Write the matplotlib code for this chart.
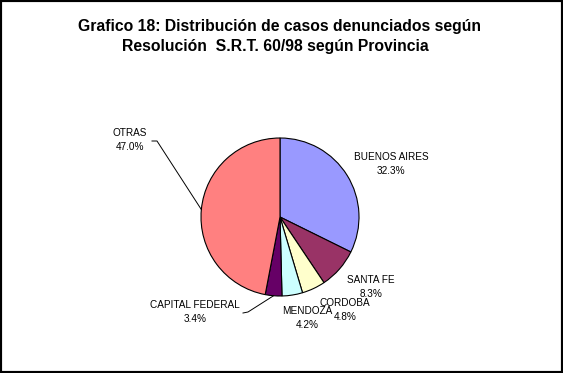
import matplotlib
matplotlib.use("Agg")
import matplotlib.pyplot as plt
from matplotlib.patches import Rectangle
import numpy as np

# datos del grafico
provincias = ["BUENOS AIRES", "SANTA FE", "CORDOBA", "MENDOZA", "CAPITAL FEDERAL", "OTRAS"]
porcentajes = [32.3, 8.3, 4.8, 4.2, 3.4, 47.0]
colores = ["#9999FF", "#993366", "#FFFFCC", "#CCFFFF", "#660066", "#FF8080"]

titulo1 = "Grafico 18: Distribución de casos denunciados según"
titulo2 = "Resolución  S.R.T. 60/98 según Provincia"

W, H = 563, 373
CX, CY, R = 280, 217, 79  # centro y radio de la torta en pixeles

# posicion de las etiquetas (pixeles, centro del bloque)
pos_etiq = [(391, 164), (371, 287), (345, 310), (307, 318), (195, 312), (130, 140)]
# etiquetas con linea guia: indice -> punto de inicio de la linea (pixeles)
guias = {5: [(152, 141), (157, 141)], 4: [(243, 313), (248, 312)]}

plt.rcParams['font.family'] = ['Liberation Sans', 'DejaVu Sans']

fig = plt.figure(figsize=(W / 100, H / 100), dpi=100)
ax = fig.add_axes([0, 0, 1, 1])


def px(x, y):
    return (x - CX) / R, (CY - y) / R


wedges, _ = ax.pie(porcentajes, colors=colores, startangle=90, counterclock=False,
                   wedgeprops=dict(edgecolor="black", linewidth=0.8))

ax.set_xlim(px(0, 0)[0], px(W, 0)[0])
ax.set_ylim(px(0, H)[1], px(0, 0)[1])
ax.set_aspect('auto')
ax.axis('off')

for i, (nombre, val) in enumerate(zip(provincias, porcentajes)):
    x, y = px(*pos_etiq[i])
    ax.text(x, y, "%s\n%.1f%%" % (nombre, val), ha="center", va="center",
            fontsize=7.2, linespacing=1.4)
    if i in guias:
        w = wedges[i]
        ang = np.deg2rad((w.theta1 + w.theta2) / 2)
        pts = [px(*p) for p in guias[i]] + [(np.cos(ang), np.sin(ang))]
        xs, ys = zip(*pts)
        ax.plot(xs, ys, color="black", lw=0.7)

fig.text(280 / W, 1 - 27 / H, titulo1, ha="center", va="center", fontsize=11.3, fontweight="bold")
fig.text(275 / W, 1 - 47 / H, titulo2, ha="center", va="center", fontsize=11.3, fontweight="bold")

fig.patches.append(Rectangle((0, 0), 1, 1, transform=fig.transFigure, fill=False,
                             edgecolor="black", linewidth=3))

fig.savefig("out.png", dpi=100, facecolor="white")
